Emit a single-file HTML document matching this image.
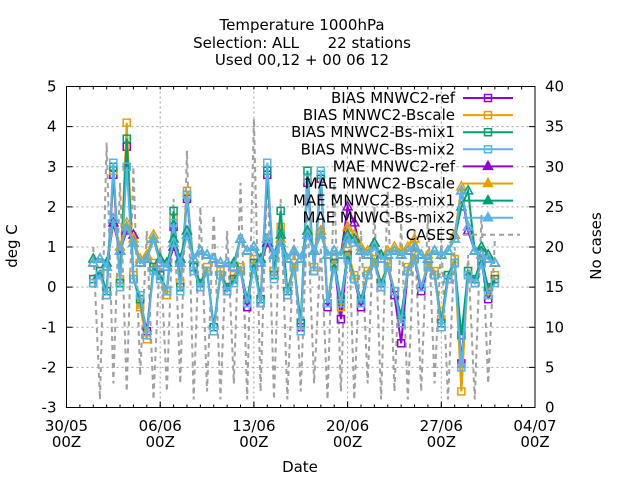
<!DOCTYPE html>
<html><head><meta charset="utf-8"><style>
body{margin:0;background:#fff}
svg{display:block;font-family:"DejaVu Sans","Liberation Sans",sans-serif}
</style></head><body>
<svg id="chart" width="640" height="480" viewBox="0 0 640 480">
<rect width="640" height="480" fill="#fff"/>
<g font-size="15" text-anchor="middle" fill="#000">
<text x="302" y="30">Temperature 1000hPa</text>
<text x="302" y="48" style="white-space:pre" xml:space="preserve">Selection: ALL      22 stations</text>
<text x="302" y="65">Used 00,12 + 00 06 12</text>
</g>
<g id="grid"></g>
<g id="axes"></g>
<g id="cases"></g>
<g id="series"></g>
<g id="legend"></g>
<rect x="66.5" y="86.5" width="468.5" height="321" fill="none" stroke="#000" stroke-width="1"/>
<text x="17" y="246" font-size="15" text-anchor="middle" transform="rotate(-90 17 246)">deg C</text>
<text x="601" y="246" font-size="15" text-anchor="middle" transform="rotate(-90 601 246)">No cases</text>
<text x="300" y="472" font-size="15" text-anchor="middle">Date</text>
</svg>
<script>
const xTickLabels=["30/05","06/06","13/06","20/06","27/06","04/07"];
const yTicks=[-3,-2,-1,0,1,2,3,4,5];
const y2Ticks=[0,5,10,15,20,25,30,35,40];
const startDay=2; // 01/06 00Z, days since 30/05 00Z
const stepDays=0.5;
const biasRef=[0.1,0.3,-0.2,2.8,0.1,3.5,0.2,-0.3,-1.1,0.5,0.3,-0.1,1.5,0.0,2.2,0.5,0.0,0.4,-1.0,0.3,-0.1,0.2,0.4,-0.5,0.6,-0.4,2.8,0.3,1.3,-0.2,0.5,-1.0,2.6,0.4,2.7,-0.5,0.6,-0.8,0.8,0.2,-0.5,0.3,0.6,0.0,0.5,-0.2,-1.4,0.4,0.7,-0.1,0.5,0.3,-1.0,0.2,0.6,-1.9,0.3,0.1,0.6,-0.3,0.2];
const biasBscale=[0.2,0.4,-0.1,2.9,0.2,4.1,0.3,-0.5,-1.3,0.6,0.2,-0.2,1.7,0.1,2.4,0.5,0.1,0.5,-1.1,0.4,0.0,0.3,0.5,-0.4,0.7,-0.3,2.9,0.4,1.5,-0.1,0.6,-0.9,2.7,0.5,2.8,-0.4,0.7,-0.5,0.9,0.3,-0.4,0.4,0.7,0.1,0.6,-0.1,-0.8,0.5,0.8,0.0,0.6,0.4,-0.8,0.3,0.7,-2.6,0.4,0.2,0.7,-0.1,0.3];
const biasMix1=[0.2,0.4,-0.1,3.0,0.1,3.7,0.2,-0.3,-1.2,0.5,0.3,-0.1,1.9,0.0,2.3,0.5,0.1,0.4,-1.0,0.3,0.0,0.2,0.4,-0.3,0.6,-0.3,2.9,0.3,1.9,-0.1,0.5,-0.9,2.9,0.4,2.8,-0.4,0.6,-0.3,0.8,0.2,-0.3,0.3,0.6,0.1,0.5,-0.1,-0.7,0.4,0.7,0.0,0.5,0.3,-0.9,0.3,0.6,-1.2,0.4,0.2,0.7,0.0,0.2];
const biasMix2=[0.1,0.3,-0.2,3.1,0.0,3.0,0.2,-0.2,-1.2,0.4,0.2,-0.1,1.6,-0.1,2.3,0.4,0.0,0.4,-1.1,0.3,-0.1,0.1,0.4,-0.4,0.5,-0.4,3.1,0.2,1.3,-0.2,0.5,-1.1,2.7,0.4,2.9,-0.4,0.5,-0.4,0.7,0.2,-0.4,0.3,0.6,0.0,0.5,-0.1,-0.9,0.4,0.7,0.0,0.5,0.3,-1.0,0.2,0.6,-2.0,0.3,0.1,0.6,-0.2,0.1];
const maeRef=[0.6,0.7,0.5,1.6,0.9,1.4,1.3,0.6,0.7,1.2,0.6,0.5,1.0,0.6,1.3,0.7,0.9,0.8,0.7,0.6,0.6,0.5,1.2,0.9,1.0,0.6,1.1,0.8,1.1,0.7,0.9,0.7,1.3,0.9,1.4,0.8,0.9,0.8,2.0,1.6,0.9,0.8,1.1,0.7,0.8,0.9,0.8,0.9,1.0,0.8,0.7,0.9,0.8,0.9,1.3,2.4,1.4,0.9,0.8,0.7,0.6];
const maeBscale=[0.6,0.7,0.5,1.7,1.0,1.6,1.2,0.7,0.8,1.3,0.7,0.6,1.1,0.7,1.4,0.7,0.9,0.8,0.7,0.6,0.6,0.6,1.2,0.9,1.0,0.7,1.2,0.8,1.2,0.7,0.9,0.7,1.4,0.9,1.4,0.8,0.9,0.8,1.5,1.3,1.0,0.9,1.1,0.8,0.9,1.0,0.9,1.0,1.2,0.8,0.8,0.9,0.8,0.9,1.3,2.5,1.5,0.9,0.8,0.8,0.6];
const maeMix1=[0.7,0.7,0.6,1.7,0.9,1.5,1.1,0.6,0.7,1.2,0.7,0.6,1.2,0.7,1.4,0.7,0.9,0.8,0.7,0.6,0.6,0.6,1.2,0.9,1.0,0.7,1.2,0.8,1.3,0.7,0.9,0.7,1.4,0.9,1.3,0.8,0.9,0.8,1.3,1.2,0.9,0.8,1.1,0.8,0.8,0.9,0.8,0.9,1.0,0.8,0.7,0.9,0.8,0.9,1.2,2.0,2.4,0.9,1.0,0.8,0.6];
const maeMix2=[0.6,0.7,0.5,1.7,0.9,1.5,1.1,0.6,0.7,1.2,0.6,0.5,1.1,0.6,1.3,0.7,0.9,0.8,0.7,0.6,0.6,0.5,1.2,0.9,1.0,0.6,1.2,0.8,1.1,0.7,0.9,0.7,1.3,0.9,1.3,0.8,0.9,0.8,1.2,1.1,0.9,0.8,1.0,0.7,0.8,0.9,0.8,0.9,1.0,0.8,0.7,0.9,0.8,0.9,1.2,2.4,1.5,0.9,0.8,0.7,0.6];
const cases=[20,1,33,3,28,2,30,4,22,1,20,2,26,3,32,1,25,2,24,1,22,3,28,1,36,2,30,1,26,1,21,2,24,3,20,1,28,2,26,1,22,3,25,1,27,2,23,1,22,2,24,3,21,1,20,2,19,1,24,3,21];
const seriesNames=["BIAS MNWC2-ref","BIAS MNWC2-Bscale","BIAS MNWC2-Bs-mix1","BIAS MNWC-Bs-mix2","MAE MNWC2-ref","MAE MNWC2-Bscale","MAE MNWC2-Bs-mix1","MAE MNWC-Bs-mix2"];
const seriesData=[biasRef,biasBscale,biasMix1,biasMix2,maeRef,maeBscale,maeMix1,maeMix2];
const colors=["#9400d3","#e69f00","#009e73","#56b4e9","#9400d3","#e69f00","#009e73","#56b4e9"];
const L=66.5,R=535,T=86.5,B=407.5;
const xs=d=>L+d*(R-L)/35;
const ys=v=>T+(5-v)*(B-T)/8;
const ys2=c=>B-c*(B-T)/40;
const NS="http://www.w3.org/2000/svg";
function mk(tag,attrs,parent){const e=document.createElementNS(NS,tag);for(const k in attrs)e.setAttribute(k,attrs[k]);parent.appendChild(e);return e;}
const grid=document.getElementById('grid'),axes=document.getElementById('axes');
yTicks.forEach(v=>{
 if(v>-3&&v<5){const g=mk('line',{x1:L,x2:R,y1:ys(v),y2:ys(v),stroke:'#a0a0a0','stroke-dasharray':'2,3','stroke-width':1},grid);
 
 }
 mk('line',{x1:L,x2:L+6,y1:ys(v),y2:ys(v),stroke:'#000'},axes);
 const t=mk('text',{x:L-10,y:ys(v)+5,'font-size':15,'text-anchor':'end'},axes);t.textContent=v;
 
 
});
y2Ticks.forEach(c=>{
 mk('line',{x1:R-6,x2:R,y1:ys2(c),y2:ys2(c),stroke:'#000'},axes);
 const t=mk('text',{x:R+10,y:ys2(c)+5,'font-size':15},axes);t.textContent=c;
 
 
});
for(let d=1;d<35;d++){mk('line',{x1:xs(d),x2:xs(d),y1:B,y2:B-3,stroke:'#000'},axes);mk('line',{x1:xs(d),x2:xs(d),y1:T,y2:T+3,stroke:'#000'},axes);}
xTickLabels.forEach((lab,i)=>{
 const x=xs(i*7);
 if(i>0&&i<5){const g=mk('line',{x1:x,x2:x,y1:T,y2:B,stroke:'#a0a0a0','stroke-dasharray':'2,3'},grid);
 
 }
 mk('line',{x1:x,x2:x,y1:B,y2:B-6,stroke:'#000'},axes);
 const t=mk('text',{x:x,y:431,'font-size':15,'text-anchor':'middle'},axes);t.textContent=lab;
 
 
 const t2=mk('text',{x:x,y:447,'font-size':15,'text-anchor':'middle'},axes);t2.textContent='00Z';
 
 
});
const cg=document.getElementById('cases');
const cp=mk('polyline',{points:cases.map((c,i)=>xs(startDay+i*stepDays)+','+ys2(c)).join(' '),fill:'none',stroke:'#a0a0a0','stroke-width':2,'stroke-dasharray':'5,4'},cg);


const sg=document.getElementById('series');
function marker(g,x,y,i,col,filled){
 if(i<4){return mk('rect',{x:x-3.5,y:y-3.5,width:7,height:7,fill:'none',stroke:col,'stroke-width':1.5},g);}
 return mk('polygon',{points:`${x},${y-5} ${x-4.5},${y+3} ${x+4.5},${y+3}`,fill:filled?col:'none',stroke:col,'stroke-width':1.5},g);
}
seriesData.forEach((arr,si)=>{
 const g=mk('g',{},sg);
 
 
 const pl=mk('polyline',{points:arr.map((v,i)=>xs(startDay+i*stepDays)+','+ys(v)).join(' '),fill:'none',stroke:colors[si],'stroke-width':2},g);
 
 
 arr.forEach((v,i)=>{const m=marker(g,xs(startDay+i*stepDays),ys(v),si,colors[si],false);
  
  });
});
const lg=document.getElementById('legend');
const names=seriesNames.concat(["CASES"]);
names.forEach((n,i)=>{
 const y=98+i*17.1;
 const e=mk('g',{},lg);
 
 
 const t=mk('text',{x:455,y:y+5,'font-size':15,'text-anchor':'end'},e);t.textContent=n;
 if(i<8){mk('line',{x1:463,x2:513,y1:y,y2:y,stroke:colors[i],'stroke-width':2},e);marker(e,488,y,i,colors[i],true);}
 else mk('line',{x1:463,x2:520,y1:y,y2:y,stroke:'#a0a0a0','stroke-width':2,'stroke-dasharray':'5,4'},e);
});
</script>
</body></html>
